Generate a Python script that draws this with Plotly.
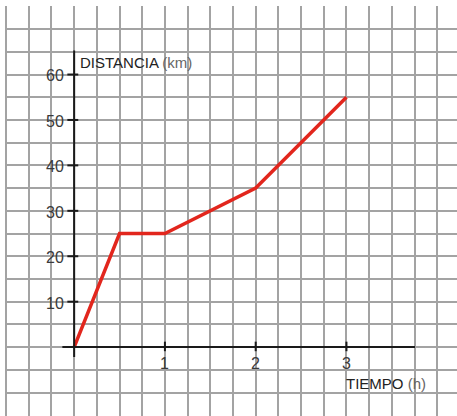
import plotly.graph_objects as go

# Data
time_h = [0, 0.5, 1, 2, 3]
distance_km = [0, 25, 25, 35, 55]
x_ticks = [1, 2, 3]
y_ticks = [10, 20, 30, 40, 50, 60]
x_title = "TIEMPO"
x_unit = "(h)"
y_title = "DISTANCIA"
y_unit = "(km)"

AXIS_COLOR = "#1a1a1a"
LABEL_COLOR = "#3a3a3a"
GRID_COLOR = "#a3a3a3"

fig = go.Figure()
fig.add_trace(go.Scatter(
    x=time_h, y=distance_km, mode="lines",
    line=dict(color="#e2261d", width=3.5),
    hoverinfo="skip", showlegend=False,
))

shapes = []
# axis lines
shapes.append(dict(type="line", xref="x", yref="y", x0=-0.13, x1=3.755, y0=0, y1=0,
                   line=dict(color=AXIS_COLOR, width=2)))
shapes.append(dict(type="line", xref="x", yref="y", x0=0, x1=0, y0=-2.2, y1=65.3,
                   line=dict(color=AXIS_COLOR, width=2)))
# tick marks
for v in y_ticks:
    shapes.append(dict(type="line", xref="x", yref="y", x0=-0.075, x1=0.045, y0=v, y1=v,
                       line=dict(color=AXIS_COLOR, width=2)))
for v in x_ticks:
    shapes.append(dict(type="line", xref="x", yref="y", x0=v, x1=v, y0=-0.9, y1=1.2,
                       line=dict(color=AXIS_COLOR, width=2)))

annotations = []
for v in y_ticks:
    annotations.append(dict(x=-0.085, y=v - 0.3, xref="x", yref="y", text=str(v),
                            showarrow=False, xanchor="right", yanchor="middle",
                            font=dict(family="Liberation Sans, Arial", size=16, color=LABEL_COLOR)))
for v in x_ticks:
    annotations.append(dict(x=v, y=-3.6, xref="x", yref="y", text=str(v),
                            showarrow=False, xanchor="center", yanchor="middle",
                            font=dict(family="Liberation Sans, Arial", size=16, color=LABEL_COLOR)))

annotations.append(dict(x=0.045, y=62.6, xref="x", yref="y",
                        text=f"{y_title} <span style='font-size:15px;color:#666'>{y_unit}</span>",
                        showarrow=False, xanchor="left", yanchor="middle",
                        font=dict(family="Liberation Sans, Arial", size=15, color="#222")))
annotations.append(dict(x=2.975, y=-7.9, xref="x", yref="y",
                        text=f"{x_title} <span style='font-size:15px;color:#666'>{x_unit}</span>",
                        showarrow=False, xanchor="left", yanchor="middle",
                        font=dict(family="Liberation Sans, Arial", size=15, color="#222")))

fig.update_layout(
    width=457, height=416,
    margin=dict(l=5, r=0, t=6, b=0),
    paper_bgcolor="white", plot_bgcolor="white",
    shapes=shapes, annotations=annotations,
    xaxis=dict(range=[-0.762, 4.218], tick0=0, dtick=0.25, showgrid=True,
               gridcolor=GRID_COLOR, gridwidth=1.6, zeroline=False,
               showticklabels=False, ticks="", showline=False, fixedrange=True),
    yaxis=dict(range=[-15.16, 75.08], tick0=0, dtick=5, showgrid=True,
               gridcolor=GRID_COLOR, gridwidth=1.6, zeroline=False,
               showticklabels=False, ticks="", showline=False, fixedrange=True),
)

fig.write_html("out.html", config={"displayModeBar": False},
               post_script="document.body.style.margin='0px';document.body.style.overflow='hidden';")
